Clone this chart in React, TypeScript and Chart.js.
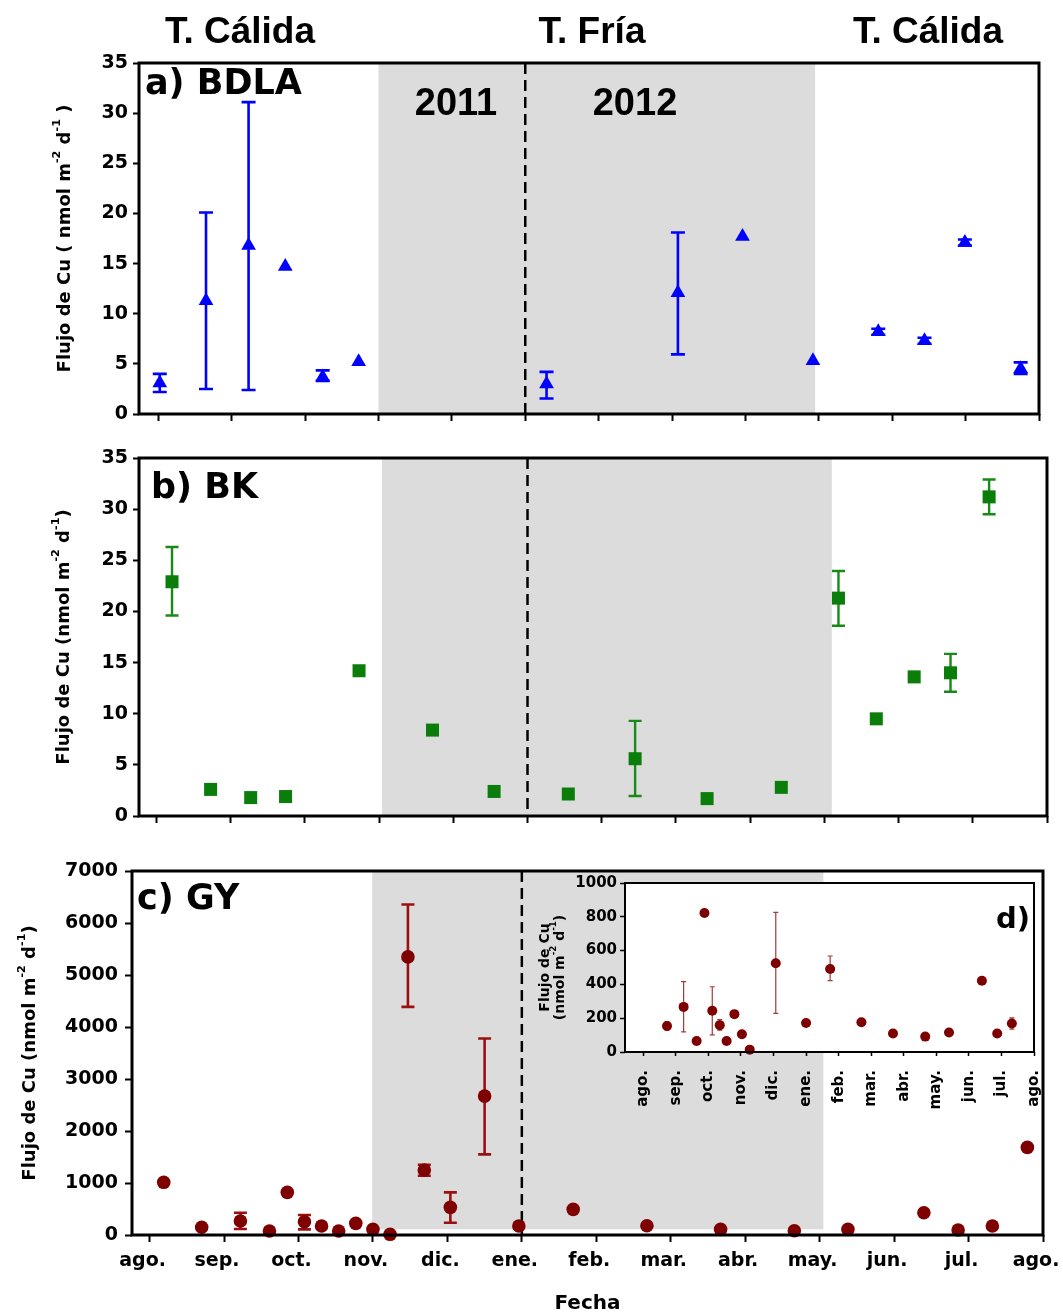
import React, { useEffect, useRef } from "react";
import { Chart, registerables } from "chart.js";

Chart.register(...registerables);

// ---------- shared axis data ----------
const MONTH_LABELS = ["ago.", "sep.", "oct.", "nov.", "dic.", "ene.", "feb.", "mar.", "abr.", "may.", "jun.", "jul.", "ago."];
const MONTH_TICKS = [0, 1, 2, 3, 4, 5, 6, 7, 8, 9, 10, 11, 12];
const HEADER_TEXTS = ["T. Cálida", "T. Fría", "T. Cálida"];
const YEAR_TEXTS = ["2011", "2012"];
const YEAR_BREAK = 5; // ene.

// ---------- a) BDLA ----------
const BDLA_MONTH = [0.02, 0.65, 1.23, 1.73, 2.24, 2.73, 5.29, 7.08, 7.96, 8.92, 9.81, 10.44, 10.99, 11.75];
const BDLA_FLUX = [3.1, 11.3, 16.8, 14.7, 3.7, 5.2, 3.0, 12.1, 17.7, 5.3, 8.2, 7.3, 17.1, 4.5];
const BDLA_LOW = [2.2, 2.5, 2.4, null, 3.3, null, 1.55, 5.95, null, null, 7.9, 7.0, 16.8, 4.0];
const BDLA_HIGH = [4.0, 20.1, 31.1, null, 4.35, null, 4.2, 18.1, null, null, 8.5, 7.6, 17.4, 5.15];
const BDLA_COLD = [3.0, 8.95];

// ---------- b) BK ----------
const BK_MONTH = [0.21, 0.73, 1.27, 1.74, 2.73, 3.72, 4.55, 5.55, 6.45, 7.42, 8.42, 9.19, 9.7, 10.21, 10.7, 11.22];
const BK_FLUX = [22.9, 2.6, 1.8, 1.9, 14.2, 8.4, 2.4, 2.15, 5.6, 1.7, 2.8, 21.3, 9.5, 13.6, 14.0, 31.2];
const BK_LOW = [19.6, null, null, null, null, null, null, null, 1.95, null, null, 18.6, null, null, 12.15, 29.5];
const BK_HIGH = [26.3, null, null, null, null, null, null, null, 9.3, null, null, 23.95, null, null, 15.85, 32.9];
const BK_COLD = [3.04, 9.1];

// ---------- c) GY ----------
const GY_MONTH = [0.19, 0.7, 1.22, 1.61, 1.85, 2.08, 2.31, 2.54, 2.77, 3.0, 3.23, 3.47, 3.69, 4.04, 4.5, 4.96, 5.69, 6.68, 7.67, 8.66, 9.38, 10.4, 10.86, 11.32, 11.79];
const GY_FLUX = [1013, 148, 269, 77, 820, 256, 173, 77, 224, 109, 13, 5348, 1249, 532, 2671, 173, 493, 179, 109, 83, 109, 429, 96, 173, 1685];
const GY_LOW = [null, null, 115, null, null, 109, null, null, null, null, null, 4387, 1140, 237, 1550, null, null, null, null, null, null, null, null, null, null];
const GY_HIGH = [null, null, 429, null, null, 384, null, null, null, null, null, 6355, 1350, 820, 3779, null, null, null, null, null, null, null, null, null, null];
const GY_COLD = [2.99, 9.05];
const GY_COLD_FLOOR = 110;

// ---------- d) inset GY (low values) ----------
const INSET_MONTH = [0.73, 1.24, 1.64, 1.88, 2.12, 2.35, 2.56, 2.8, 3.03, 3.27, 4.07, 5.0, 5.74, 6.7, 7.67, 8.66, 9.39, 10.4, 10.87, 11.32];
const INSET_FLUX = [154, 267, 65, 822, 244, 159, 65, 224, 105, 14, 525, 172, 491, 176, 109, 91, 115, 422, 109, 169];
const INSET_LOW = [129, 119, null, null, 101, 129, null, null, null, null, 228, null, 422, null, null, null, null, null, null, 135];
const INSET_HIGH = [178, 416, null, null, 386, 192, null, null, null, null, 826, null, 568, null, null, null, null, null, null, 202];

// ---------- styles ----------
const SANS = "'DejaVu Sans', Verdana, sans-serif";
const ARIAL = "'Liberation Sans', Arial, sans-serif";
const SHADE_COLOR = "#dcdcdc";

type Seg = { t: string; sup?: boolean };
type Txt = { t: string; x: number; y: number; size: number; family: string; align: CanvasTextAlign };

const Y_TITLE_A: Seg[] = [{ t: "Flujo de Cu ( nmol m" }, { t: "-2", sup: true }, { t: " d" }, { t: "-1", sup: true }, { t: " )" }];
const Y_TITLE: Seg[] = [{ t: "Flujo de Cu (nmol m" }, { t: "-2", sup: true }, { t: " d" }, { t: "-1", sup: true }, { t: ")" }];
const INSET_TITLE_1: Seg[] = [{ t: "Flujo de Cu" }];
const INSET_TITLE_2: Seg[] = [{ t: "(nmol m" }, { t: "-2", sup: true }, { t: " d" }, { t: "-1", sup: true }, { t: ")" }];

interface Panel {
  canvas: { left: number; top: number; width: number; height: number };
  area: { left: number; right: number; top: number; bottom: number };
  xs: number[];
  ys: number[];
  lo: (number | null)[];
  hi: (number | null)[];
  xMin: number;
  xMax: number;
  yMax: number;
  yStep: number;
  marker: { style: string; radius: number; color: string };
  err: { color: string; width: number; cap: number };
  shade?: { x0: number; x1: number; y0: number; y1: number };
  dash?: number;
  frame: number;
  yTick: { length: number; width: number; font: number; pad: number };
  xTick: { length: number; width: number };
  xLabels: "none" | "flat" | "rotated";
  xLabelFont?: number;
  xLabelPad?: number;
  xLabelOffset?: number;
  xTitle?: string;
  yTitles: { segs: Seg[]; x: number }[];
  yTitleSize: number;
  texts: Txt[];
  whiteArea?: boolean;
}

function drawRich(ctx: CanvasRenderingContext2D, cx: number, cy: number, segs: Seg[], size: number) {
  const sup = size * 0.62;
  ctx.save();
  ctx.translate(cx, cy);
  ctx.rotate(-Math.PI / 2);
  ctx.fillStyle = "#000";
  ctx.textBaseline = "middle";
  ctx.textAlign = "left";
  const ws = segs.map((s) => {
    ctx.font = `bold ${s.sup ? sup : size}px ${SANS}`;
    return ctx.measureText(s.t).width;
  });
  let x = -ws.reduce((a, b) => a + b, 0) / 2;
  segs.forEach((s, i) => {
    ctx.font = `bold ${s.sup ? sup : size}px ${SANS}`;
    ctx.fillText(s.t, x, s.sup ? -size * 0.42 : 0);
    x += ws[i];
  });
  ctx.restore();
}

function decoPlugin(p: Panel) {
  return {
    id: "deco",
    beforeDraw(chart: any) {
      const { ctx, chartArea: ca, scales } = chart;
      ctx.save();
      if (p.whiteArea) {
        ctx.fillStyle = "#fff";
        ctx.fillRect(ca.left, ca.top, ca.right - ca.left, ca.bottom - ca.top);
      }
      if (p.shade) {
        const x0 = scales.x.getPixelForValue(p.shade.x0);
        const x1 = scales.x.getPixelForValue(p.shade.x1);
        const y0 = scales.y.getPixelForValue(p.shade.y0);
        const y1 = scales.y.getPixelForValue(p.shade.y1);
        ctx.fillStyle = SHADE_COLOR;
        ctx.fillRect(x0, y1, x1 - x0, y0 - y1);
      }
      ctx.restore();
    },
    beforeDatasetsDraw(chart: any) {
      const { ctx, chartArea: ca, scales } = chart;
      ctx.save();
      if (p.dash !== undefined) {
        const dx = scales.x.getPixelForValue(p.dash);
        ctx.strokeStyle = "#000";
        ctx.lineWidth = 2.5;
        ctx.setLineDash([11, 6]);
        ctx.beginPath();
        ctx.moveTo(dx, ca.top);
        ctx.lineTo(dx, ca.bottom);
        ctx.stroke();
        ctx.setLineDash([]);
      }
      ctx.strokeStyle = p.err.color;
      ctx.lineWidth = p.err.width;
      p.xs.forEach((xv, i) => {
        const lo = p.lo[i];
        const hi = p.hi[i];
        if (lo == null || hi == null) return;
        const px = scales.x.getPixelForValue(xv);
        const ylo = scales.y.getPixelForValue(lo);
        const yhi = scales.y.getPixelForValue(hi);
        const c = p.err.cap / 2;
        ctx.beginPath();
        ctx.moveTo(px, ylo);
        ctx.lineTo(px, yhi);
        ctx.moveTo(px - c, ylo);
        ctx.lineTo(px + c, ylo);
        ctx.moveTo(px - c, yhi);
        ctx.lineTo(px + c, yhi);
        ctx.stroke();
      });
      ctx.restore();
    },
    afterDraw(chart: any) {
      const { ctx, chartArea: ca } = chart;
      ctx.save();
      ctx.strokeStyle = "#000";
      ctx.lineWidth = p.frame;
      ctx.strokeRect(ca.left, ca.top, ca.right - ca.left, ca.bottom - ca.top);
      ctx.fillStyle = "#000";
      ctx.textBaseline = "alphabetic";
      p.texts.forEach((t) => {
        ctx.font = `bold ${t.size}px ${t.family}`;
        ctx.textAlign = t.align;
        ctx.fillText(t.t, t.x, t.y);
      });
      const cy = (ca.top + ca.bottom) / 2;
      p.yTitles.forEach((yt) => drawRich(ctx, yt.x, cy, yt.segs, p.yTitleSize));
      ctx.restore();
    },
  };
}

function makeConfig(p: Panel): any {
  const W = p.canvas.width;
  const H = p.canvas.height;
  const A = p.area;
  const rot = p.xLabels === "rotated" ? 90 : 0;
  return {
    type: "scatter",
    data: {
      datasets: [
        {
          data: p.xs.map((x, i) => ({ x, y: p.ys[i] })),
          pointStyle: p.marker.style,
          pointRadius: p.marker.radius,
          pointHoverRadius: p.marker.radius,
          pointBackgroundColor: p.marker.color,
          pointBorderColor: p.marker.color,
          pointBorderWidth: 0,
          showLine: false,
          clip: false,
        },
      ],
    },
    options: {
      animation: false,
      responsive: false,
      maintainAspectRatio: false,
      events: [],
      layout: { padding: { left: 0, top: A.top, right: W - A.right, bottom: 0 } },
      plugins: { legend: { display: false }, tooltip: { enabled: false }, title: { display: false } },
      scales: {
        x: {
          type: "linear",
          position: "bottom",
          min: p.xMin,
          max: p.xMax,
          afterBuildTicks: (s: any) => {
            s.ticks = MONTH_TICKS.map((v) => ({ value: v }));
          },
          afterFit: (s: any) => {
            s.height = H - A.bottom;
            s.paddingLeft = 0;
            s.paddingRight = 0;
          },
          grid: {
            display: true,
            drawOnChartArea: false,
            drawTicks: true,
            tickLength: p.xTick.length,
            tickWidth: p.xTick.width,
            tickColor: "#000",
            color: "#000",
          },
          border: { display: false },
          ticks: {
            display: p.xLabels !== "none",
            autoSkip: false,
            callback: (_v: any, i: number) => MONTH_LABELS[i],
            font: { family: SANS, size: p.xLabelFont || 19, weight: "bold" },
            color: "#000",
            padding: p.xLabelPad || 8,
            labelOffset: p.xLabelOffset || 0,
            maxRotation: rot,
            minRotation: rot,
          },
          title: p.xTitle
            ? {
                display: true,
                text: p.xTitle,
                color: "#000",
                font: { family: SANS, size: 20, weight: "bold", lineHeight: 1 },
                padding: { top: 0, bottom: 0 },
              }
            : { display: false },
        },
        y: {
          type: "linear",
          position: "left",
          min: 0,
          max: p.yMax,
          afterFit: (s: any) => {
            s.width = A.left;
            s.paddingTop = 0;
            s.paddingBottom = 0;
          },
          grid: {
            display: true,
            drawOnChartArea: false,
            drawTicks: true,
            tickLength: p.yTick.length,
            tickWidth: p.yTick.width,
            tickColor: "#000",
            color: "#000",
          },
          border: { display: false },
          ticks: {
            stepSize: p.yStep,
            color: "#000",
            padding: p.yTick.pad,
            font: { family: SANS, size: p.yTick.font, weight: "bold" },
            callback: (v: any) => String(v),
          },
          title: { display: false },
        },
      },
    },
    plugins: [decoPlugin(p)],
  };
}

const PANEL_A: Panel = {
  canvas: { left: 0, top: 0, width: 1063, height: 440 },
  area: { left: 139, right: 1039, top: 63, bottom: 414 },
  xs: BDLA_MONTH,
  ys: BDLA_FLUX,
  lo: BDLA_LOW,
  hi: BDLA_HIGH,
  xMin: -0.263,
  xMax: 12,
  yMax: 35,
  yStep: 5,
  marker: { style: "triangle", radius: 8.5, color: "#0000ff" },
  err: { color: "#0000ff", width: 2.6, cap: 14 },
  shade: { x0: BDLA_COLD[0], x1: BDLA_COLD[1], y0: 0, y1: 35 },
  dash: YEAR_BREAK,
  frame: 3,
  yTick: { length: 6, width: 2, font: 19, pad: 5 },
  xTick: { length: 7, width: 2 },
  xLabels: "none",
  yTitles: [{ segs: Y_TITLE_A, x: 65 }],
  yTitleSize: 18,
  texts: [
    { t: HEADER_TEXTS[0], x: 240, y: 43, size: 37, family: ARIAL, align: "center" },
    { t: HEADER_TEXTS[1], x: 592, y: 43, size: 37, family: ARIAL, align: "center" },
    { t: HEADER_TEXTS[2], x: 928, y: 43, size: 37, family: ARIAL, align: "center" },
    { t: "a) BDLA", x: 145, y: 94, size: 35, family: SANS, align: "left" },
    { t: YEAR_TEXTS[0], x: 456, y: 115, size: 38, family: ARIAL, align: "center" },
    { t: YEAR_TEXTS[1], x: 635, y: 115, size: 38, family: ARIAL, align: "center" },
  ],
};

const PANEL_B: Panel = {
  canvas: { left: 0, top: 440, width: 1063, height: 400 },
  area: { left: 139, right: 1047, top: 18, bottom: 376 },
  xs: BK_MONTH,
  ys: BK_FLUX,
  lo: BK_LOW,
  hi: BK_HIGH,
  xMin: -0.235,
  xMax: 12,
  yMax: 35,
  yStep: 5,
  marker: { style: "rect", radius: 9.2, color: "#0a7d0a" },
  err: { color: "#178a17", width: 2.4, cap: 13 },
  shade: { x0: BK_COLD[0], x1: BK_COLD[1], y0: 0, y1: 35 },
  dash: YEAR_BREAK,
  frame: 3,
  yTick: { length: 6, width: 2, font: 19, pad: 5 },
  xTick: { length: 7, width: 2 },
  xLabels: "none",
  yTitles: [{ segs: Y_TITLE, x: 64 }],
  yTitleSize: 18,
  texts: [{ t: "b) BK", x: 151, y: 58, size: 35, family: SANS, align: "left" }],
};

const PANEL_C: Panel = {
  canvas: { left: 0, top: 840, width: 1063, height: 474 },
  area: { left: 132, right: 1043, top: 31, bottom: 395 },
  xs: GY_MONTH,
  ys: GY_FLUX,
  lo: GY_LOW,
  hi: GY_HIGH,
  xMin: -0.236,
  xMax: 12,
  yMax: 7000,
  yStep: 1000,
  marker: { style: "circle", radius: 6.8, color: "#7f0000" },
  err: { color: "#9a1010", width: 2.6, cap: 13 },
  shade: { x0: GY_COLD[0], x1: GY_COLD[1], y0: GY_COLD_FLOOR, y1: 7000 },
  dash: YEAR_BREAK,
  frame: 3,
  yTick: { length: 7, width: 2, font: 19, pad: 7 },
  xTick: { length: 7, width: 2 },
  xLabels: "flat",
  xLabelFont: 19,
  xLabelPad: 8,
  xLabelOffset: -7,
  xTitle: "Fecha",
  yTitles: [{ segs: Y_TITLE, x: 30 }],
  yTitleSize: 18,
  texts: [{ t: "c) GY", x: 137, y: 69, size: 35, family: SANS, align: "left" }],
};

const PANEL_D: Panel = {
  canvas: { left: 530, top: 870, width: 520, height: 250 },
  area: { left: 95, right: 504, top: 13, bottom: 182 },
  xs: INSET_MONTH,
  ys: INSET_FLUX,
  lo: INSET_LOW,
  hi: INSET_HIGH,
  xMin: -0.56,
  xMax: 12,
  yMax: 1000,
  yStep: 200,
  marker: { style: "circle", radius: 5, color: "#7f0000" },
  err: { color: "#a03c3c", width: 1.2, cap: 5 },
  frame: 2,
  yTick: { length: 5, width: 1.5, font: 15, pad: 3 },
  xTick: { length: 4, width: 1.5 },
  xLabels: "rotated",
  xLabelFont: 15,
  xLabelPad: 14,
  yTitles: [
    { segs: INSET_TITLE_1, x: 15 },
    { segs: INSET_TITLE_2, x: 30 },
  ],
  yTitleSize: 14,
  texts: [{ t: "d)", x: 500, y: 58, size: 29, family: SANS, align: "right" }],
  whiteArea: true,
};

const PANELS = [PANEL_A, PANEL_B, PANEL_C, PANEL_D];

export default function App() {
  const refs = [useRef<HTMLCanvasElement>(null), useRef<HTMLCanvasElement>(null), useRef<HTMLCanvasElement>(null), useRef<HTMLCanvasElement>(null)];
  useEffect(() => {
    const charts = PANELS.map((p, i) => new Chart(refs[i].current as HTMLCanvasElement, makeConfig(p)));
    return () => charts.forEach((c) => c.destroy());
  }, []);
  return (
    <div style={{ position: "absolute", left: 0, top: 0, width: 1063, height: 1314, background: "#fff" }}>
      {PANELS.map((p, i) => (
        <canvas
          key={i}
          ref={refs[i]}
          width={p.canvas.width}
          height={p.canvas.height}
          style={{ position: "absolute", left: p.canvas.left, top: p.canvas.top, width: p.canvas.width, height: p.canvas.height }}
        />
      ))}
    </div>
  );
}
